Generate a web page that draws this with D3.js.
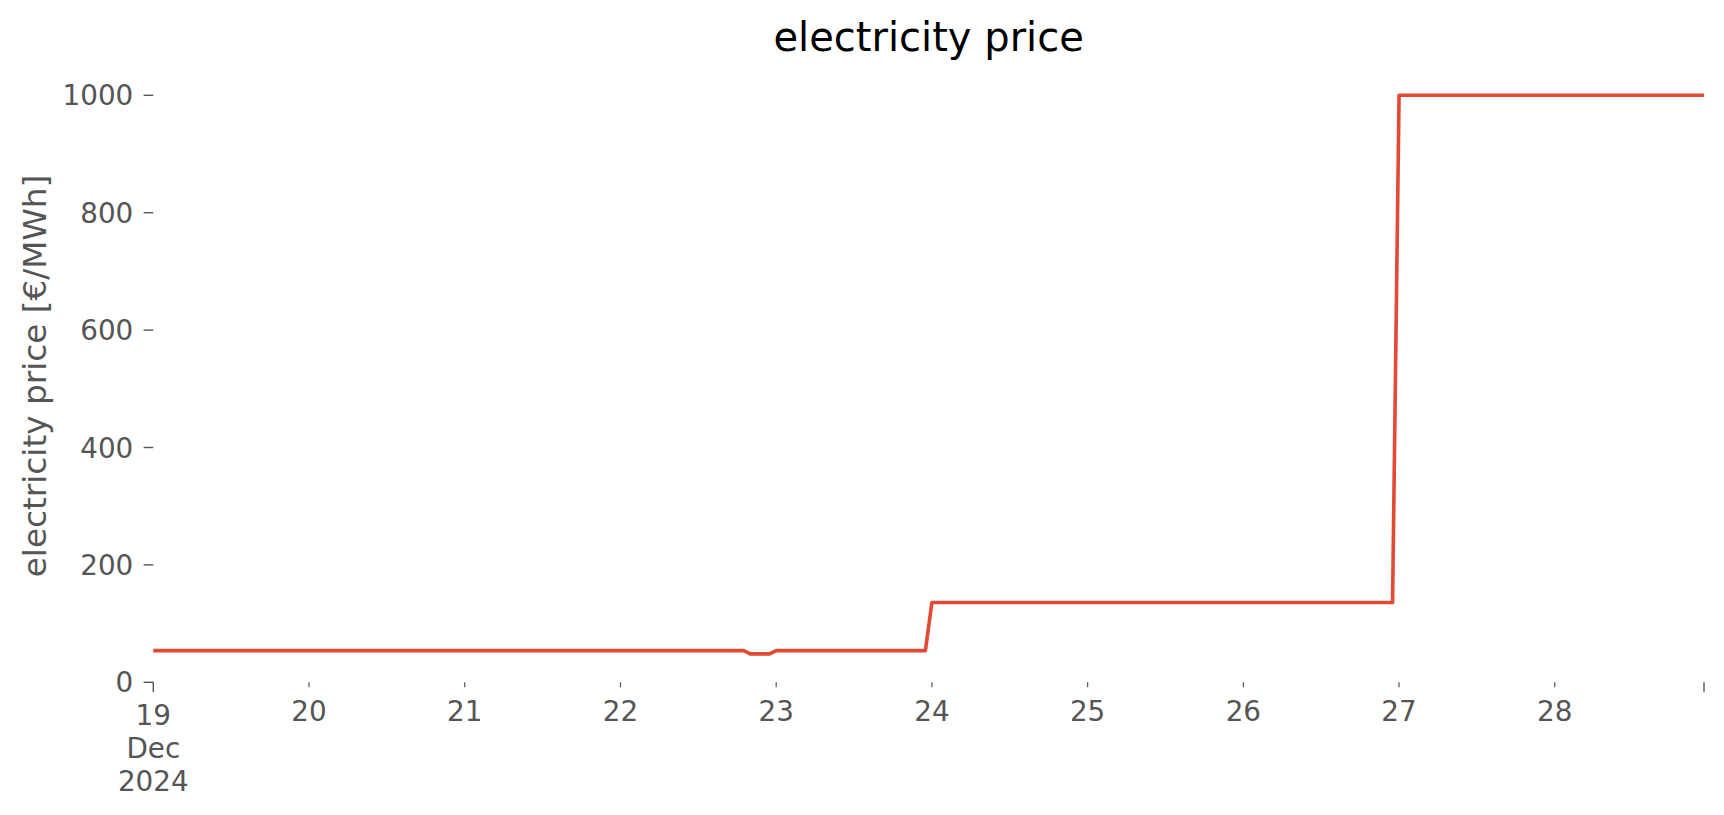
<!DOCTYPE html>
<html>
<head>
<meta charset="utf-8">
<script src="https://cdn.jsdelivr.net/npm/d3@7"></script>
<style>
  html, body { margin: 0; padding: 0; background: #fff; }
  svg { display: block; font-family: "DejaVu Sans", sans-serif; }
</style>
</head>
<body>
<svg id="chart" width="1724" height="815"></svg>
<script>
// Breakpoints of the hourly price series (value held between listed hours)
const times = [
  "2024-12-19T00:00", "2024-12-22T19:00", "2024-12-22T20:00", "2024-12-22T23:00",
  "2024-12-23T00:00", "2024-12-23T23:00", "2024-12-24T00:00", "2024-12-26T23:00",
  "2024-12-27T00:00", "2024-12-28T23:00"
];
const prices = [54, 54, 48.5, 48.5, 54, 54, 136, 136, 1000, 1000];
const yTicks = [0, 200, 400, 600, 800, 1000];
const minorDays = ["2024-12-20", "2024-12-21", "2024-12-22", "2024-12-23", "2024-12-24",
                   "2024-12-25", "2024-12-26", "2024-12-27", "2024-12-28"];
const majorTicks = ["2024-12-19T00:00", "2024-12-28T23:00"];
const firstLabel = ["19", "Dec", "2024"];
const titleText = "electricity price";
const yLabelText = "electricity price [€/MWh]";

(function () {
const parse = d3.timeParse("%Y-%m-%dT%H:%M");
const parseDay = d3.timeParse("%Y-%m-%d");
const data = times.map((t, i) => ({ t: parse(t), v: prices[i] }));

const svg = d3.select("#chart");
const pl = 153.3, pr = 1704, pt = 95.3, pb = 682.3;

const x = d3.scaleTime().domain([parse(times[0]), parse(times[times.length - 1])]).range([pl, pr]);
const y = d3.scaleLinear().domain([0, 1000]).range([pb, pt]);

const tickColor = "#555555";

// Y axis ticks
const yAxis = svg.append("g");
yTicks.forEach(v => {
  yAxis.append("line")
    .attr("x1", pl - 9.7).attr("x2", pl)
    .attr("y1", y(v)).attr("y2", y(v))
    .attr("stroke", tickColor).attr("stroke-width", 1.4);
  yAxis.append("text")
    .attr("x", pl - 20).attr("y", y(v) + 10)
    .attr("text-anchor", "end")
    .attr("font-size", 27.8)
    .attr("fill", tickColor)
    .text(v);
});

// X axis: major ticks
const xAxis = svg.append("g");
majorTicks.forEach(t => {
  xAxis.append("line")
    .attr("x1", x(parse(t))).attr("x2", x(parse(t)))
    .attr("y1", pb).attr("y2", pb + 9.7)
    .attr("stroke", tickColor).attr("stroke-width", 1.4);
});
// minor ticks
minorDays.forEach(d => {
  const xd = x(parseDay(d));
  xAxis.append("line")
    .attr("x1", xd).attr("x2", xd)
    .attr("y1", pb).attr("y2", pb + 5)
    .attr("stroke", tickColor).attr("stroke-width", 1.2);
  xAxis.append("text")
    .attr("x", xd).attr("y", pb + 39)
    .attr("text-anchor", "middle")
    .attr("font-size", 27.8)
    .attr("fill", tickColor)
    .text(d3.timeFormat("%-d")(parseDay(d)));
});
// first major label (multi-line)
const fl = xAxis.append("text")
  .attr("x", x(parse(majorTicks[0])))
  .attr("y", pb + 43)
  .attr("text-anchor", "middle")
  .attr("font-size", 27.8)
  .attr("fill", tickColor);
firstLabel.forEach((s, i) => {
  fl.append("tspan").attr("x", x(parse(majorTicks[0]))).attr("dy", i === 0 ? 0 : 33).text(s);
});

// Line
const line = d3.line().x(d => x(d.t)).y(d => y(d.v));
svg.append("path")
  .datum(data)
  .attr("d", line)
  .attr("fill", "none")
  .attr("stroke", "#E24A33")
  .attr("stroke-width", 3.6)
  .attr("stroke-linejoin", "round");

// Title
svg.append("text")
  .attr("x", (pl + pr) / 2).attr("y", 51)
  .attr("text-anchor", "middle")
  .attr("font-size", 40)
  .attr("fill", "#000")
  .text(titleText);

// Y label
svg.append("text")
  .attr("transform", "translate(46, 376) rotate(-90)")
  .attr("text-anchor", "middle")
  .attr("font-size", 32.7)
  .attr("fill", tickColor)
  .text(yLabelText);
})();
</script>
</body>
</html>
